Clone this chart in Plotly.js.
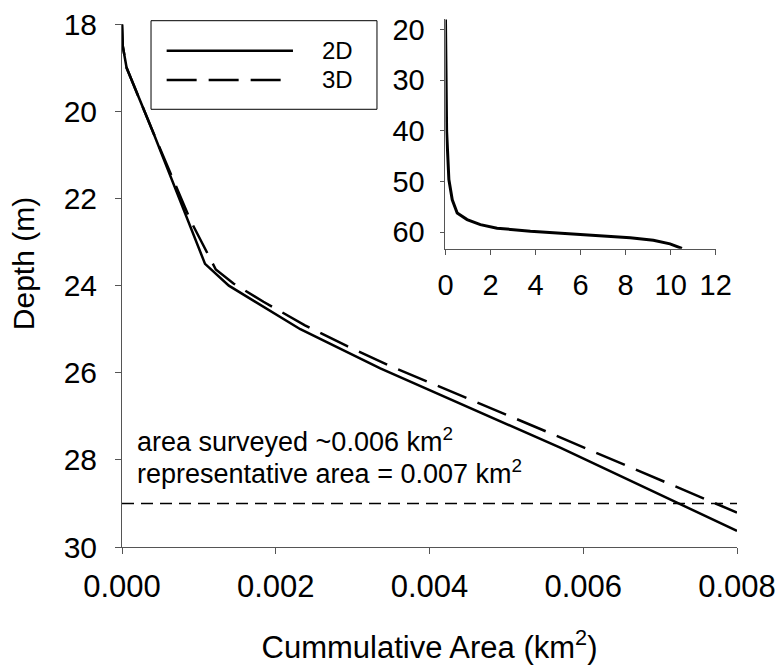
<!DOCTYPE html>
<html>
<head>
<meta charset="utf-8">
<script src="https://cdn.plot.ly/plotly-3.0.1.min.js"></script>
<style>html,body{margin:0;padding:0;background:#fff;}#chart{width:780px;height:667px;}</style>
</head>
<body>
<div id="chart"></div>
<script>
// Main panel: cumulative area (km^2) vs depth (m)
const area2D  = [0, 0.00001, 0.00006, 0.00041, 0.00108, 0.00139, 0.00232, 0.00336, 0.00570, 0.00800];
const depth2D = [18.0, 18.5, 19.0, 20.5, 23.5, 24.0, 25.0, 25.9, 27.72, 29.63];

const area3D  = [0, 0.00001, 0.00006, 0.00041, 0.00089, 0.00122, 0.00145, 0.00184, 0.00238, 0.00293, 0.00347, 0.00548, 0.00800];
const depth3D = [18.0, 18.5, 19.0, 20.5, 22.5, 23.63, 23.95, 24.37, 24.91, 25.39, 25.83, 27.32, 29.21];

// Reference depth line (29 m)
const refArea  = [0, 0.008];
const refDepth = [29, 29];

// Inset: full depth range
const insetArea  = [0, 0.02, 0.05, 0.15, 0.30, 0.52, 0.96, 1.55, 2.29, 3.77, 5.98, 8.2, 9.23, 9.97, 10.5];
const insetDepth = [18, 30, 40, 49.6, 53.6, 56.2, 57.5, 58.5, 59.2, 59.8, 60.5, 61.1, 61.6, 62.3, 63.2];

// Tick labels
const mainXTicks = [0, 0.002, 0.004, 0.006, 0.008];
const mainXLabels = ['0.000', '0.002', '0.004', '0.006', '0.008'];
const mainYTicks = [18, 20, 22, 24, 26, 28, 30];
const insetXTicks = [0, 2, 4, 6, 8, 10, 12];
const insetYTicks = [20, 30, 40, 50, 60];

const seriesNames = ['2D', '3D'];
const noteLines = ['area surveyed ~0.006 km<sup>2</sup>', 'representative area = 0.007 km<sup>2</sup>'];

const FONT = 'Liberation Sans, Arial, Helvetica, sans-serif';
const AX = '#555';

const traces = [
  {x: area2D, y: depth2D, name: seriesNames[0], mode: 'lines', xaxis: 'x', yaxis: 'y',
   line: {color: '#000', width: 2.5}},
  {x: area3D, y: depth3D, name: seriesNames[1], mode: 'lines', xaxis: 'x', yaxis: 'y',
   line: {color: '#000', width: 2.5, dash: '31px,12px'}},
  {x: refArea, y: refDepth, name: '29 m', mode: 'lines', xaxis: 'x', yaxis: 'y',
   line: {color: '#000', width: 1.5, dash: '12px,7px'}},
  {x: insetArea, y: insetDepth, name: seriesNames[0] + ' (full)', mode: 'lines', xaxis: 'x2', yaxis: 'y2',
   line: {color: '#000', width: 3}}
];

const layout = {
  width: 780, height: 667,
  margin: {l: 122, r: 43, t: 19, b: 120, pad: 0},
  paper_bgcolor: '#fff', plot_bgcolor: 'rgba(0,0,0,0)',
  font: {family: FONT, color: '#000', size: 31},
  showlegend: false,
  xaxis: {
    domain: [0, 1], range: [0, 0.008], tickvals: mainXTicks, ticktext: mainXLabels,
    showline: true, linecolor: AX, linewidth: 1, ticks: 'outside', ticklen: 6, tickcolor: AX,
    showgrid: false, zeroline: false, tickfont: {size: 31, family: FONT}, ticklabelstandoff: 6,
    title: {text: 'Cummulative Area (km<sup>2</sup>)', font: {size: 31, family: FONT}, standoff: 33}
  },
  yaxis: {
    domain: [0, 0.99], range: [30, 18], tickvals: mainYTicks,
    showline: true, linecolor: AX, linewidth: 1, ticks: 'outside', ticklen: 6, tickcolor: AX,
    showgrid: false, zeroline: false, tickfont: {size: 30, family: FONT}, ticklabelstandoff: 12
  },
  xaxis2: {
    domain: [0.526, 0.9654], anchor: 'y2', range: [0, 12], tickvals: insetXTicks,
    showline: true, linecolor: AX, linewidth: 1, ticks: 'outside', ticklen: 5, tickcolor: AX,
    showgrid: false, zeroline: false, tickfont: {size: 29, family: FONT}, ticklabelstandoff: 6
  },
  yaxis2: {
    domain: [0.565, 1], anchor: 'x2', range: [63.25, 17.9], tickvals: insetYTicks,
    showline: true, linecolor: AX, linewidth: 1, ticks: 'outside', ticklen: 4, tickcolor: AX,
    showgrid: false, zeroline: false, tickfont: {size: 29, family: FONT}, ticklabelstandoff: 10
  },
  shapes: [
    {type: 'rect', xref: 'paper', yref: 'paper', x0: 0.0472, x1: 0.4146, y0: 0.829, y1: 0.9968,
     line: {color: '#000', width: 1}, fillcolor: 'rgba(255,255,255,0)'},
    {type: 'line', xref: 'paper', yref: 'paper', x0: 0.0726, x1: 0.2780, y0: 0.94, y1: 0.94,
     line: {color: '#000', width: 2.5}},
    {type: 'line', xref: 'paper', yref: 'paper', x0: 0.0726, x1: 0.2618, y0: 0.8845, y1: 0.8845,
     line: {color: '#000', width: 2.5, dash: '30px,12px'}}
  ],
  annotations: [
    {xref: 'paper', yref: 'paper', x: 0.3512, y: 0.94, xanchor: 'center', yanchor: 'middle',
     text: seriesNames[0], showarrow: false, font: {size: 24, family: FONT}},
    {xref: 'paper', yref: 'paper', x: 0.3512, y: 0.8845, xanchor: 'center', yanchor: 'middle',
     text: seriesNames[1], showarrow: false, font: {size: 24, family: FONT}},
    {xref: 'paper', yref: 'paper', x: 0.021, y: 0.2027, xanchor: 'left', yanchor: 'middle',
     text: noteLines[0], showarrow: false, font: {size: 27, family: FONT}},
    {xref: 'paper', yref: 'paper', x: 0.021, y: 0.142, xanchor: 'left', yanchor: 'middle',
     text: noteLines[1], showarrow: false, font: {size: 27, family: FONT}},
    {xref: 'paper', yref: 'paper', x: -0.159, y: 0.536, xanchor: 'center', yanchor: 'middle',
     text: 'Depth (m)', textangle: -90, showarrow: false, font: {size: 30, family: FONT}}
  ]
};

Plotly.newPlot('chart', traces, layout, {staticPlot: true, displayModeBar: false});
</script>
</body>
</html>
